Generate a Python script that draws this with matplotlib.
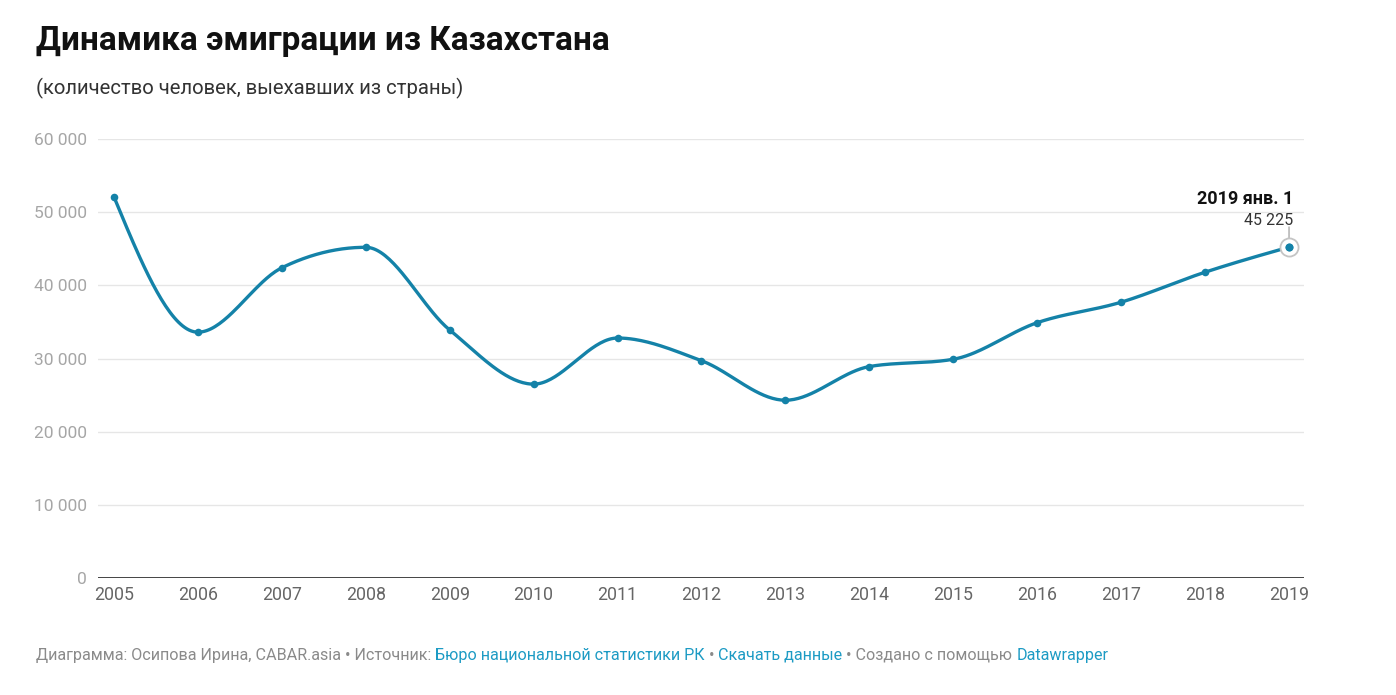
import numpy as np
import matplotlib.pyplot as plt

plt.rcParams['font.family'] = ['Roboto', 'DejaVu Sans']

years = [2005, 2006, 2007, 2008, 2009, 2010, 2011, 2012, 2013, 2014, 2015, 2016, 2017, 2018, 2019]
emigrants = [52100, 33600, 42400, 45200, 33900, 26500, 32800, 29700, 24300, 28900, 29900, 34900, 37700, 41800, 45225]
y_ticks = [0, 10000, 20000, 30000, 40000, 50000, 60000]

LINE = '#1482a8'


def monotone_x(x, y, n=40):
    """Smooth curve through the points, same idea as d3.curveMonotoneX."""
    x = np.asarray(x, float)
    y = np.asarray(y, float)
    h = np.diff(x)
    s = np.diff(y) / h
    t = np.zeros_like(y)
    for i in range(1, len(x) - 1):
        p = (s[i - 1] * h[i] + s[i] * h[i - 1]) / (h[i - 1] + h[i])
        t[i] = (np.sign(s[i - 1]) + np.sign(s[i])) * min(abs(s[i - 1]), abs(s[i]), 0.5 * abs(p))
    t[0] = (3 * s[0] - t[1]) / 2
    t[-1] = (3 * s[-1] - t[-2]) / 2
    xs, ys = [], []
    for i in range(len(x) - 1):
        u = np.linspace(0, 1, n)
        h00 = 2 * u**3 - 3 * u**2 + 1
        h10 = u**3 - 2 * u**2 + u
        h01 = -2 * u**3 + 3 * u**2
        h11 = u**3 - u**2
        xs.append(x[i] + u * h[i])
        ys.append(h00 * y[i] + h10 * h[i] * t[i] + h01 * y[i + 1] + h11 * h[i] * t[i + 1])
    return np.concatenate(xs), np.concatenate(ys)


fig = plt.figure(figsize=(13.96, 6.95), dpi=100)
ax = fig.add_axes([0.0702, 0.1683, 0.864, 0.6317])

cx, cy = monotone_x(years, emigrants)
ax.plot(cx, cy, color=LINE, lw=2.4, solid_capstyle='round', zorder=3)
ax.scatter(years, emigrants, s=30, color=LINE, zorder=4, linewidths=0)

# highlight of the last value
ax.scatter([years[-1]], [emigrants[-1]], s=170, facecolor='white', edgecolor='#c4c4c4',
           linewidths=1.3, zorder=3.5)
ax.scatter([years[-1]], [emigrants[-1]], s=34, color=LINE, zorder=5, linewidths=0)
ax.annotate('', xy=(years[-1], emigrants[-1]), xytext=(0, 14.5), textcoords='offset points',
            arrowprops=dict(arrowstyle='-', color='#aaaaaa', lw=1, shrinkA=0, shrinkB=5.5))
ax.annotate('2019 янв. 1', xy=(years[-1], emigrants[-1]), xytext=(3, 34.5),
            textcoords='offset points', ha='right', va='center',
            fontsize=13, fontweight='bold', color='#111111')
ax.annotate(f'{emigrants[-1]:,}'.replace(',', ' '), xy=(years[-1], emigrants[-1]),
            xytext=(3, 19.5), textcoords='offset points', ha='right', va='center',
            fontsize=11.5, color='#333333')

ax.set_xlim(2004.81, 2019.18)
ax.set_ylim(0, 60000)
ax.set_yticks(y_ticks)
ax.set_yticklabels([f'{v:,}'.replace(',', ' ') for v in y_ticks])
ax.set_xticks(years)
ax.set_xticklabels([str(y) for y in years])
ax.tick_params(axis='y', length=0, pad=8, labelsize=12.5, labelcolor='#a6a6a6')
ax.tick_params(axis='x', length=0, pad=6, labelsize=12.8, labelcolor='#666666')

for v in y_ticks[1:]:
    ax.axhline(v, color='#e6e6e6', lw=1, zorder=1)
ax.axhline(0, color='#333333', lw=2, zorder=2)
for side in ax.spines.values():
    side.set_visible(False)

fig.text(0.0258, 0.941, 'Динамика эмиграции из Казахстана', fontsize=24,
         fontweight='bold', color='#111111', va='center')
fig.text(0.0258, 0.873, '(количество человек, выехавших из страны)', fontsize=14.6,
         color='#333333', va='center')

# footer: grey text mixed with link-coloured parts
parts = [('Диаграмма: Осипова Ирина, CABAR.asia • Источник: ', '#8a8a8a'),
         ('Бюро национальной статистики РК', '#1d9bc4'),
         (' • ', '#8a8a8a'),
         ('Скачать данные', '#1d9bc4'),
         (' • Создано с помощью ', '#8a8a8a'),
         ('Datawrapper', '#1d9bc4')]
fig.canvas.draw()
renderer = fig.canvas.get_renderer()
xpos = 0.0258
for txt, col in parts:
    t = fig.text(xpos, 0.057, txt, fontsize=11.6, color=col, va='center')
    bb = t.get_window_extent(renderer=renderer)
    xpos += bb.width / fig.bbox.width

fig.savefig('out.png', dpi=100, facecolor='white')
